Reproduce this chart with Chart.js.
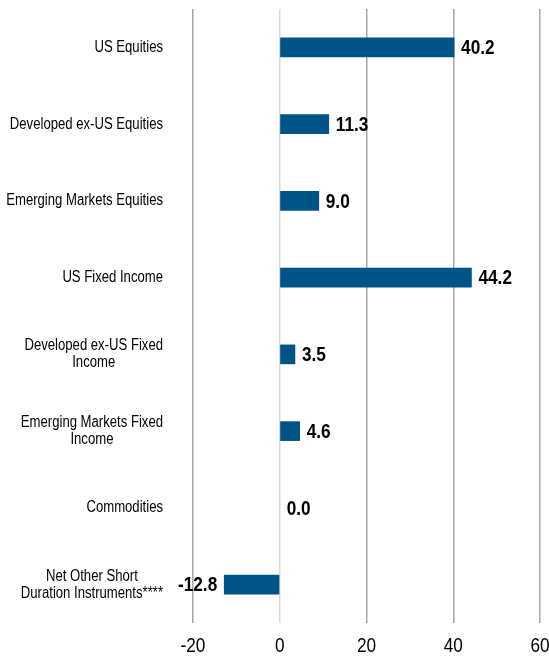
<!DOCTYPE html>
<html>
<head>
<meta charset="utf-8">
<script src="https://cdn.jsdelivr.net/npm/chart.js@4"></script>
<style>
  body { margin: 0; background: #fff; }
  canvas { display: block; }
</style>
</head>
<body>
<canvas id="allocChart" width="549" height="661"></canvas>
<script>
// data
const categories = [
    'US Equities',
    'Developed ex-US Equities',
    'Emerging Markets Equities',
    'US Fixed Income',
    ['Developed ex-US Fixed', 'Income'],
    ['Emerging Markets Fixed', 'Income'],
    'Commodities',
    ['Net Other Short', 'Duration Instruments****']
];
const allocations = [40.2, 11.3, 9.0, 44.2, 3.5, 4.6, 0.0, -12.8];
const axisMin = -20;
const axisMax = 60;
const axisStep = 20;

// no Arial Narrow here, so squeeze Liberation Sans horizontally
const squeeze = 0.82;
const baseFont = '"Liberation Sans", Arial, sans-serif';

function narrowText(ctx, text, x, y, align) {
    ctx.save();
    ctx.translate(x, y);
    ctx.scale(squeeze, 1);
    ctx.textAlign = align;
    ctx.fillText(text, 0, 0);
    ctx.restore();
}

// category labels, x tick labels and bar values
const narrowLabels = {
    id: 'narrowLabels',
    afterDatasetsDraw(chart) {
        const ctx = chart.ctx;
        const area = chart.chartArea;
        const xScale = chart.scales.x;
        const yScale = chart.scales.y;
        ctx.save();
        ctx.fillStyle = '#000';
        ctx.textBaseline = 'middle';

        // category labels: block right-aligned, lines centred inside it
        ctx.font = '16px ' + baseFont;
        const lineH = 17;
        const rightEdge = area.left - 30;
        categories.forEach((label, i) => {
            const lines = Array.isArray(label) ? label : [label];
            const widest = Math.max(...lines.map(l => ctx.measureText(l).width)) * squeeze;
            const yc = yScale.getPixelForTick(i);
            const y0 = yc - (lines.length - 1) * lineH / 2;
            lines.forEach((line, j) => {
                narrowText(ctx, line, rightEdge - widest / 2, y0 + j * lineH, 'center');
            });
        });

        // x ticks
        ctx.font = '21px ' + baseFont;
        xScale.ticks.forEach((t, i) => {
            narrowText(ctx, String(t.value), xScale.getPixelForTick(i), area.bottom + 23, 'center');
        });

        // value labels
        ctx.font = 'bold 21px ' + baseFont;
        chart.getDatasetMeta(0).data.forEach((bar, i) => {
            const v = allocations[i];
            if (v < 0) {
                narrowText(ctx, v.toFixed(1), bar.x - 7, bar.y + 1, 'right');
            } else {
                narrowText(ctx, v.toFixed(1), bar.x + 7, bar.y + 1, 'left');
            }
        });
        ctx.restore();
    }
};

const ctx = document.getElementById('allocChart').getContext('2d');
new Chart(ctx, {
    type: 'bar',
    data: {
        labels: categories,
        datasets: [{
            data: allocations,
            backgroundColor: (c) => (c.raw === 0 ? 'rgba(0,0,0,0)' : '#005487'),
            borderWidth: 0,
            barThickness: 19
        }]
    },
    options: {
        indexAxis: 'y',
        responsive: false,
        animation: false,
        layout: { padding: { top: 9, right: 9, left: 0, bottom: 0 } },
        plugins: {
            legend: { display: false },
            tooltip: { enabled: false }
        },
        scales: {
            x: {
                min: axisMin,
                max: axisMax,
                border: { display: false },
                grid: {
                    drawTicks: false,
                    lineWidth: 1.5,
                    color: (c) => (c.tick && c.tick.value === 0 ? '#d9d9d9' : '#a6a6a6')
                },
                ticks: { stepSize: axisStep, display: false },
                afterFit(scale) {
                    scale.height = 38;
                    scale.paddingLeft = 0;
                    scale.paddingRight = 0;
                }
            },
            y: {
                border: { display: false },
                grid: { display: false, drawTicks: false },
                ticks: { display: false },
                afterFit(scale) {
                    scale.width = 193;
                    scale.paddingTop = 0;
                    scale.paddingBottom = 0;
                }
            }
        }
    },
    plugins: [narrowLabels]
});
</script>
</body>
</html>
